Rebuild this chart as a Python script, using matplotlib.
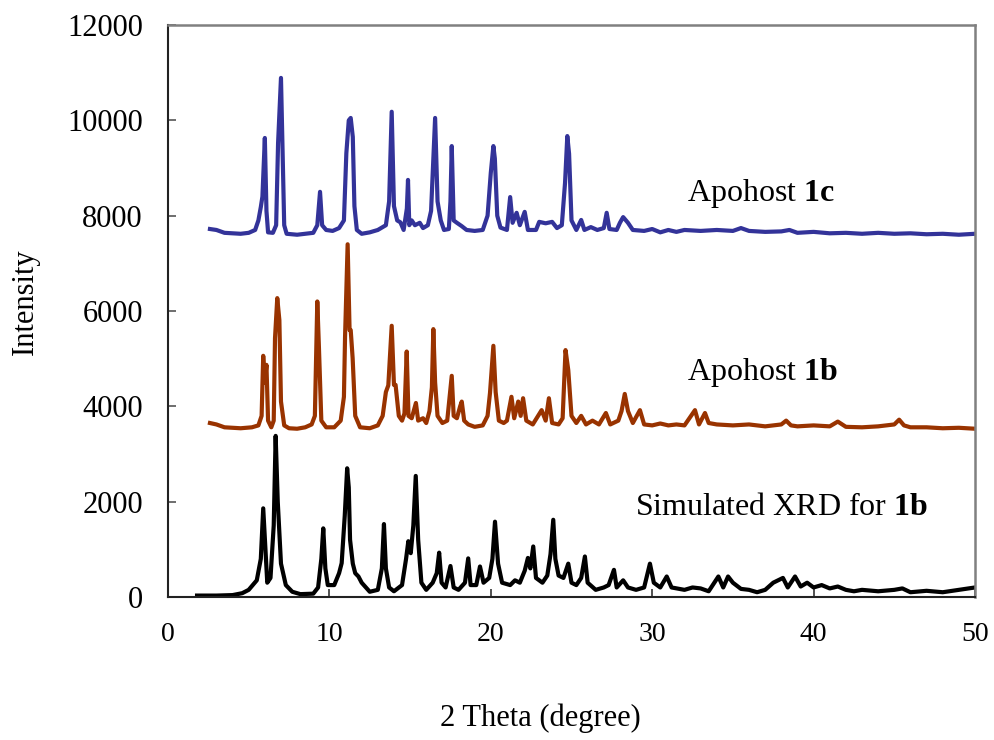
import matplotlib
matplotlib.use("Agg")
import matplotlib.pyplot as plt

plt.rcParams['font.family'] = ['Liberation Serif', 'DejaVu Serif']
plt.rcParams['mathtext.fontset'] = 'custom'
plt.rcParams['mathtext.rm'] = 'Liberation Serif'
plt.rcParams['mathtext.bf'] = 'Liberation Serif:bold'

# Apohost 1c (blue) - polyline vertices
c1_x = [2.6, 3.0, 3.5, 4.5, 5.0, 5.4, 5.6, 5.75, 5.85, 6.0, 6.1, 6.2, 6.5, 6.7, 6.82, 7.0, 7.1, 7.2, 7.35,
        8.0, 9.0, 9.25, 9.42, 9.55, 9.8, 10.2, 10.6, 10.9, 11.05, 11.2, 11.32, 11.45, 11.55, 11.7, 12.0,
        12.5, 13.0, 13.5, 13.7, 13.86, 14.0, 14.2, 14.4, 14.6, 14.8, 14.87, 14.95, 15.1, 15.3, 15.6, 15.8,
        16.1, 16.3, 16.45, 16.55, 16.7, 16.9, 17.1, 17.4, 17.5, 17.58, 17.7, 17.9, 18.2, 18.5, 19.0, 19.5,
        19.8, 20.0, 20.16, 20.25, 20.4, 20.6, 21.0, 21.2, 21.35, 21.6, 21.8, 22.1, 22.3, 22.8, 23.0, 23.4,
        23.8, 24.1, 24.4, 24.6, 24.74, 24.85, 25.0, 25.3, 25.6, 25.8, 26.2, 26.6, 27.0, 27.18, 27.35, 27.8,
        28.0, 28.2, 28.5, 28.8, 29.5, 30.0, 30.5, 31.0, 31.5, 32.0, 33.0, 34.0, 35.0, 35.5, 36.0, 37.0,
        38.0, 38.5, 39.0, 40.0, 41.0, 42.0, 43.0, 44.0, 45.0, 46.0, 47.0, 48.0, 49.0, 50.0]
c1_y = [7720, 7700, 7640, 7620, 7640, 7700, 7900, 8180, 8400, 9630, 8100, 7650, 7640, 7800, 9520, 10890, 9300, 7800, 7620,
        7600, 7640, 7800, 8500, 7800, 7700, 7680, 7740, 7900, 9310, 10000, 10050, 9650, 8200, 7700, 7620,
        7650, 7700, 7800, 8300, 10180, 8200, 7900, 7860, 7700, 8150, 8750, 7800, 7900, 7800, 7850, 7740,
        7800, 8100, 9300, 10050, 8300, 7900, 7700, 7720, 8300, 9460, 7900, 7850, 7780, 7700, 7680, 7700,
        8000, 8900, 9460, 9200, 8000, 7750, 7700, 8390, 7850, 8060, 7800, 8080, 7700, 7700, 7870, 7840,
        7870, 7740, 7800, 8690, 9670, 9300, 7900, 7700, 7910, 7700, 7760, 7700, 7740, 8060, 7720, 7700,
        7850, 7970, 7850, 7700, 7680, 7720, 7650, 7700, 7660, 7700, 7680, 7700, 7680, 7740, 7680, 7660,
        7670, 7700, 7640, 7660, 7630, 7640, 7620, 7640, 7620, 7630, 7610, 7620, 7600, 7620]

# Apohost 1b (red)
b1_x = [2.6, 3.0, 3.5, 4.5, 5.2, 5.6, 5.8, 5.9, 6.0, 6.1, 6.2, 6.4, 6.55, 6.63, 6.77, 6.9, 7.0, 7.2, 7.5,
        8.0, 8.5, 8.9, 9.1, 9.25, 9.35, 9.5, 9.8, 10.3, 10.7, 10.9, 10.97, 11.13, 11.25, 11.32, 11.44, 11.6,
        11.9, 12.5, 13.0, 13.3, 13.5, 13.65, 13.86, 14.0, 14.1, 14.3, 14.5, 14.65, 14.79, 14.9, 15.1, 15.36,
        15.5, 15.8, 16.0, 16.2, 16.35, 16.44, 16.55, 16.7, 17.0, 17.3, 17.45, 17.58, 17.7, 17.9, 18.1, 18.2,
        18.35, 18.6, 19.0, 19.5, 19.8, 19.95, 20.16, 20.3, 20.5, 20.8, 21.0, 21.28, 21.45, 21.7, 21.85, 22.0,
        22.2, 22.6, 23.15, 23.4, 23.6, 23.8, 24.2, 24.45, 24.63, 24.8, 25.0, 25.3, 25.6, 25.9, 26.3, 26.7,
        27.13, 27.4, 27.9, 28.1, 28.3, 28.5, 28.8, 29.24, 29.5, 30.0, 30.5, 31.0, 31.5, 32.0, 32.65, 32.9,
        33.27, 33.5, 34.0, 35.0, 36.0, 37.0, 38.0, 38.3, 38.6, 39.0, 40.0, 41.0, 41.5, 42.0, 43.0, 44.0,
        45.0, 45.3, 45.6, 46.0, 47.0, 48.0, 49.0, 50.0]
b1_y = [3650, 3620, 3560, 3540, 3560, 3600, 3800, 5060, 4500, 4870, 3700, 3560, 3700, 5430, 6270, 5810, 4100, 3600, 3540,
        3530, 3560, 3620, 3800, 6200, 5250, 3700, 3560, 3560, 3700, 4200, 5460, 7400, 5600, 5600, 5010, 3800,
        3560, 3540, 3600, 3800, 4300, 4440, 5690, 4450, 4450, 3800, 3700, 3850, 5150, 3800, 3750, 4070,
        3700, 3750, 3650, 3900, 4400, 5620, 4500, 3800, 3650, 3700, 4200, 4640, 3800, 3750, 4000, 4100,
        3700, 3620, 3570, 3600, 3800, 4280, 5270, 4300, 3700, 3650, 3700, 4200, 3750, 4100, 3800, 4170,
        3700, 3620, 3920, 3700, 4170, 3650, 3620, 3750, 5180, 4760, 3800, 3650, 3800, 3620, 3700, 3620,
        3860, 3620, 3700, 3900, 4260, 3900, 3650, 3920, 3620, 3600, 3640, 3600, 3620, 3600, 3920, 3620,
        3860, 3650, 3620, 3600, 3620, 3580, 3620, 3700, 3600, 3580, 3600, 3580, 3680, 3570, 3560, 3580,
        3620, 3720, 3600, 3560, 3560, 3540, 3550, 3530]

# Simulated XRD for 1b (black)
s1_x = [1.8, 3.0, 4.0, 4.6, 5.0, 5.5, 5.75, 5.9, 6.05, 6.15, 6.35, 6.55, 6.67, 6.8, 7.0, 7.3, 7.7, 8.2, 9.0,
        9.3, 9.5, 9.62, 9.75, 9.9, 10.3, 10.6, 10.76, 10.95, 11.1, 11.2, 11.28, 11.45, 11.6, 11.8, 12.0, 12.5,
        13.0, 13.25, 13.38, 13.5, 13.7, 14.0, 14.5, 14.75, 14.89, 15.04, 15.2, 15.35, 15.5, 15.7, 16.0, 16.4,
        16.65, 16.8, 16.95, 17.2, 17.5, 17.7, 18.0, 18.4, 18.6, 18.75, 19.1, 19.33, 19.55, 19.9, 20.1, 20.26,
        20.45, 20.7, 21.2, 21.5, 21.8, 22.1, 22.3, 22.45, 22.63, 22.8, 23.2, 23.5, 23.7, 23.87, 24.0, 24.2,
        24.5, 24.8, 25.0, 25.3, 25.6, 25.83, 26.0, 26.5, 27.0, 27.3, 27.63, 27.8, 28.2, 28.5, 29.0, 29.5,
        29.86, 30.1, 30.5, 30.9, 31.2, 32.0, 32.5, 33.0, 33.5, 34.1, 34.4, 34.7, 35.0, 35.5, 36.0, 36.5,
        37.0, 37.5, 38.1, 38.4, 38.85, 39.2, 39.6, 40.0, 40.5, 41.0, 41.5, 42.0, 42.5, 43.0, 44.0, 45.0,
        45.5, 46.0, 47.0, 48.0, 49.0, 50.0]
s1_y = [30, 30, 40, 80, 150, 350, 800, 1860, 900, 300, 400, 1500, 3380, 2000, 700, 250, 110, 60, 70,
        200, 800, 1440, 600, 250, 250, 500, 710, 1700, 2700, 2300, 1200, 700, 500, 430, 300, 110,
        150, 600, 1530, 600, 200, 120, 250, 800, 1170, 920, 1500, 2540, 1200, 300, 150, 300,
        500, 930, 300, 200, 650, 200, 150, 300, 810, 250, 250, 640, 300, 400, 800, 1580,
        700, 300, 250, 350, 300, 550, 820, 600, 1060, 400, 300, 450, 900, 1620, 800, 450,
        400, 700, 300, 250, 400, 850, 300, 150, 200, 250, 570, 200, 350, 200, 150, 200,
        700, 300, 200, 430, 200, 150, 200, 180, 120, 430, 200, 430, 300, 170, 150, 100,
        150, 300, 400, 200, 430, 220, 300, 200, 250, 180, 220, 150, 120, 150, 120, 150,
        180, 100, 130, 100, 150, 200]

x_ticks = [0, 10, 20, 30, 40, 50]
y_ticks = [0, 2000, 4000, 6000, 8000, 10000, 12000]

fig = plt.figure(figsize=(9.95, 7.40), dpi=100)
ax = fig.add_axes([168/995, 1-597/740, (975-168)/995, (597-25)/740])

lw = 3.0
ax.plot(s1_x, s1_y, color='#000000', lw=lw, solid_joinstyle='round')
ax.plot(b1_x, b1_y, color='#993300', lw=lw, solid_joinstyle='round')
ax.plot(c1_x, c1_y, color='#333399', lw=lw, solid_joinstyle='round')

ax.set_xlim(0, 50)
ax.set_ylim(0, 12000)
ax.set_xticks(x_ticks)
ax.set_yticks(y_ticks)
ax.tick_params(axis='x', direction='in', length=6, width=1.2, labelsize=20, pad=18, color='#333333')
ax.tick_params(axis='y', direction='in', length=6, width=1.2, labelsize=22, pad=18, color='#555555')

for s in ['left', 'bottom']:
    ax.spines[s].set_color('#222222')
    ax.spines[s].set_linewidth(1.5)
for s in ['right', 'top']:
    ax.spines[s].set_color('#808080')
    ax.spines[s].set_linewidth(1.8)

ax.text(32.15, 8470, r'Apohost $\mathbf{1c}$', fontsize=23, va='center', ha='left')
ax.text(32.15, 4700, r'Apohost $\mathbf{1b}$', fontsize=23, va='center', ha='left')
ax.text(28.93, 1870, r'Simulated XRD for $\mathbf{1b}$', fontsize=23, va='center', ha='left')

fig.text(540/995, 1-718/740, '2 Theta (degree)', fontsize=22, ha='center', va='center')
fig.text(25/995, 1-302/740, 'Intensity', fontsize=22, ha='center', va='center', rotation=90)

fig.savefig('out.png', dpi=100)
